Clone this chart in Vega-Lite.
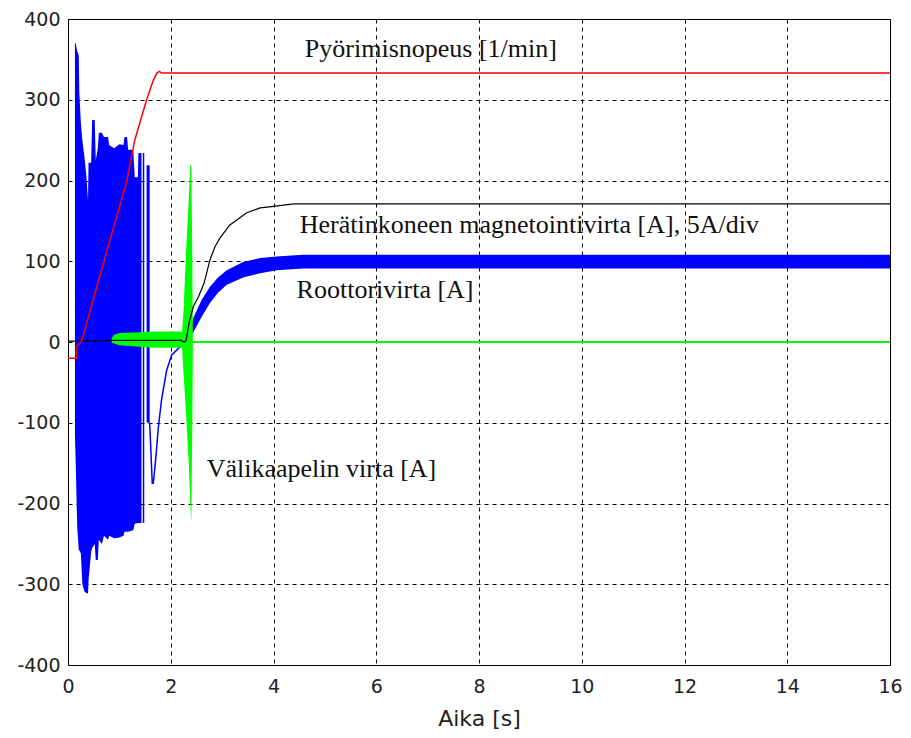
{
  "$schema": "https://vega.github.io/schema/vega-lite/v6.json",
  "width": 822,
  "height": 646,
  "autosize": {"type": "none"},
  "padding": {"left": 68, "top": 19, "right": 21, "bottom": 73},
  "background": "white",
  "config": {
    "view": {"stroke": "black", "strokeWidth": 1},
    "axis": {
      "grid": true,
      "gridColor": "black",
      "gridOpacity": 1,
      "gridDash": [4, 4],
      "gridWidth": 1,
      "domain": false,
      "ticks": false,
      "labelFlush": false,
      "labelFont": "DejaVu Sans",
      "labelFontSize": 19,
      "labelColor": "#222222",
      "titleFont": "DejaVu Sans",
      "titleFontSize": 22,
      "titleFontWeight": "normal",
      "titleColor": "#222222"
    }
  },
  "datasets": {
    "env": [
      {"series": "blue", "seg": "main", "t": 0.135, "lo": -115, "hi": 370},
      {"series": "blue", "seg": "main", "t": 0.15, "lo": -150, "hi": 370},
      {"series": "blue", "seg": "main", "t": 0.18, "lo": -230, "hi": 360},
      {"series": "blue", "seg": "main", "t": 0.21, "lo": -258, "hi": 355},
      {"series": "blue", "seg": "main", "t": 0.22, "lo": -258, "hi": 309},
      {"series": "blue", "seg": "main", "t": 0.25, "lo": -262, "hi": 272},
      {"series": "blue", "seg": "main", "t": 0.28, "lo": -300, "hi": 250},
      {"series": "blue", "seg": "main", "t": 0.32, "lo": -309, "hi": 229},
      {"series": "blue", "seg": "main", "t": 0.36, "lo": -311, "hi": 204},
      {"series": "blue", "seg": "main", "t": 0.39, "lo": -311, "hi": 175},
      {"series": "blue", "seg": "main", "t": 0.40, "lo": -295, "hi": 222},
      {"series": "blue", "seg": "main", "t": 0.45, "lo": -260, "hi": 222},
      {"series": "blue", "seg": "main", "t": 0.47, "lo": -255, "hi": 275},
      {"series": "blue", "seg": "main", "t": 0.52, "lo": -250, "hi": 275},
      {"series": "blue", "seg": "main", "t": 0.54, "lo": -270, "hi": 225},
      {"series": "blue", "seg": "main", "t": 0.58, "lo": -270, "hi": 240},
      {"series": "blue", "seg": "main", "t": 0.60, "lo": -245, "hi": 259},
      {"series": "blue", "seg": "main", "t": 0.66, "lo": -250, "hi": 259},
      {"series": "blue", "seg": "main", "t": 0.70, "lo": -240, "hi": 254},
      {"series": "blue", "seg": "main", "t": 0.78, "lo": -245, "hi": 254},
      {"series": "blue", "seg": "main", "t": 0.80, "lo": -240, "hi": 244},
      {"series": "blue", "seg": "main", "t": 0.90, "lo": -243, "hi": 240},
      {"series": "blue", "seg": "main", "t": 1.00, "lo": -242, "hi": 245},
      {"series": "blue", "seg": "main", "t": 1.08, "lo": -240, "hi": 244},
      {"series": "blue", "seg": "main", "t": 1.10, "lo": -235, "hi": 254},
      {"series": "blue", "seg": "main", "t": 1.15, "lo": -235, "hi": 254},
      {"series": "blue", "seg": "main", "t": 1.17, "lo": -235, "hi": 238},
      {"series": "blue", "seg": "main", "t": 1.27, "lo": -233, "hi": 238},
      {"series": "blue", "seg": "main", "t": 1.30, "lo": -225, "hi": 204},
      {"series": "blue", "seg": "main", "t": 1.36, "lo": -224, "hi": 204},
      {"series": "blue", "seg": "main", "t": 1.37, "lo": -224, "hi": 234},
      {"series": "blue", "seg": "main", "t": 1.43, "lo": -224, "hi": 234},
      {"series": "blue", "seg": "bar", "t": 1.53, "lo": -100, "hi": 219},
      {"series": "blue", "seg": "bar", "t": 1.59, "lo": -100, "hi": 219},
      {"series": "blue", "seg": "band", "t": 2.33, "lo": -3, "hi": 3},
      {"series": "blue", "seg": "band", "t": 2.44, "lo": 12, "hi": 30},
      {"series": "blue", "seg": "band", "t": 2.60, "lo": 31, "hi": 52},
      {"series": "blue", "seg": "band", "t": 2.76, "lo": 48, "hi": 68},
      {"series": "blue", "seg": "band", "t": 2.92, "lo": 61, "hi": 80},
      {"series": "blue", "seg": "band", "t": 3.09, "lo": 71, "hi": 89},
      {"series": "blue", "seg": "band", "t": 3.41, "lo": 80, "hi": 99},
      {"series": "blue", "seg": "band", "t": 3.74, "lo": 85, "hi": 104},
      {"series": "blue", "seg": "band", "t": 4.06, "lo": 89, "hi": 106},
      {"series": "blue", "seg": "band", "t": 4.57, "lo": 91, "hi": 108},
      {"series": "blue", "seg": "band", "t": 6.0, "lo": 91, "hi": 108},
      {"series": "blue", "seg": "band", "t": 9.0, "lo": 91, "hi": 108},
      {"series": "blue", "seg": "band", "t": 12.0, "lo": 91, "hi": 108},
      {"series": "blue", "seg": "band", "t": 16.0, "lo": 91, "hi": 108},
      {"series": "green", "seg": "g", "t": 0.85, "lo": -1, "hi": 5},
      {"series": "green", "seg": "g", "t": 0.90, "lo": -2, "hi": 9},
      {"series": "green", "seg": "g", "t": 1.00, "lo": -4, "hi": 11},
      {"series": "green", "seg": "g", "t": 1.40, "lo": -6, "hi": 12},
      {"series": "green", "seg": "g", "t": 1.60, "lo": -7, "hi": 13},
      {"series": "green", "seg": "g", "t": 2.22, "lo": -7, "hi": 13},
      {"series": "green", "seg": "g", "t": 2.25, "lo": -40, "hi": 40},
      {"series": "green", "seg": "g", "t": 2.30, "lo": -90, "hi": 114},
      {"series": "green", "seg": "g", "t": 2.35, "lo": -150, "hi": 175},
      {"series": "green", "seg": "g", "t": 2.38, "lo": -200, "hi": 219},
      {"series": "green", "seg": "g", "t": 2.40, "lo": -224, "hi": 219},
      {"series": "green", "seg": "g", "t": 2.42, "lo": -100, "hi": 100},
      {"series": "green", "seg": "g", "t": 2.43, "lo": -8, "hi": 8}
    ],
    "lines": [
      {"series": "blue", "seg": "spike", "t": 1.47, "v": 234},
      {"series": "blue", "seg": "spike", "t": 1.47, "v": -224},
      {"series": "blue", "seg": "tr", "t": 1.59, "v": -100},
      {"series": "blue", "seg": "tr", "t": 1.64, "v": -175},
      {"series": "blue", "seg": "tr", "t": 1.66, "v": -175},
      {"series": "blue", "seg": "tr", "t": 1.70, "v": -150},
      {"series": "blue", "seg": "tr", "t": 1.76, "v": -105},
      {"series": "blue", "seg": "tr", "t": 1.82, "v": -72},
      {"series": "blue", "seg": "tr", "t": 1.92, "v": -35},
      {"series": "blue", "seg": "tr", "t": 2.02, "v": -16},
      {"series": "blue", "seg": "tr", "t": 2.18, "v": -6},
      {"series": "blue", "seg": "tr", "t": 2.31, "v": -1},
      {"series": "blue", "seg": "tr", "t": 2.36, "v": 3},
      {"series": "green", "seg": "g0", "t": 2.43, "v": 0},
      {"series": "green", "seg": "g0", "t": 16, "v": 0},
      {"series": "black", "seg": "k", "t": 0, "v": 1},
      {"series": "black", "seg": "k", "t": 0.5, "v": 1},
      {"series": "black", "seg": "k", "t": 0.9, "v": 2},
      {"series": "black", "seg": "k", "t": 2.2, "v": 2},
      {"series": "black", "seg": "k", "t": 2.26, "v": 0},
      {"series": "black", "seg": "k", "t": 2.3, "v": 2},
      {"series": "black", "seg": "k", "t": 2.36, "v": 25},
      {"series": "black", "seg": "k", "t": 2.44, "v": 44},
      {"series": "black", "seg": "k", "t": 2.54, "v": 56},
      {"series": "black", "seg": "k", "t": 2.65, "v": 73},
      {"series": "black", "seg": "k", "t": 2.76, "v": 101},
      {"series": "black", "seg": "k", "t": 2.86, "v": 118},
      {"series": "black", "seg": "k", "t": 2.96, "v": 129},
      {"series": "black", "seg": "k", "t": 3.15, "v": 145},
      {"series": "black", "seg": "k", "t": 3.48, "v": 160},
      {"series": "black", "seg": "k", "t": 3.74, "v": 166},
      {"series": "black", "seg": "k", "t": 4.0, "v": 168},
      {"series": "black", "seg": "k", "t": 4.4, "v": 171},
      {"series": "black", "seg": "k", "t": 16, "v": 171},
      {"series": "red", "seg": "r", "t": 0, "v": -20},
      {"series": "red", "seg": "r", "t": 0.16, "v": -20},
      {"series": "red", "seg": "r", "t": 0.17, "v": -6},
      {"series": "red", "seg": "r", "t": 0.27, "v": 2},
      {"series": "red", "seg": "r", "t": 0.7, "v": 100},
      {"series": "red", "seg": "r", "t": 1.14, "v": 198},
      {"series": "red", "seg": "r", "t": 1.3, "v": 250},
      {"series": "red", "seg": "r", "t": 1.53, "v": 300},
      {"series": "red", "seg": "r", "t": 1.66, "v": 324},
      {"series": "red", "seg": "r", "t": 1.73, "v": 333},
      {"series": "red", "seg": "r", "t": 1.78, "v": 335},
      {"series": "red", "seg": "r", "t": 1.82, "v": 333},
      {"series": "red", "seg": "r", "t": 16, "v": 333}
    ],
    "labels": [
      {"t": 4.61, "v": 353, "txt": "Pyörimisnopeus [1/min]"},
      {"t": 4.51, "v": 134.6, "txt": "Herätinkoneen magnetointivirta [A], 5A/div"},
      {"t": 4.45, "v": 54.5, "txt": "Roottorivirta [A]"},
      {"t": 2.70, "v": -167, "txt": "Välikaapelin virta [A]"}
    ]
  },
  "layer": [
    {
      "data": {"name": "env"},
      "transform": [{"filter": "datum.series === 'blue'"}],
      "mark": {"type": "area", "color": "#0000ff", "opacity": 1},
      "encoding": {
        "x": {"field": "t", "type": "quantitative", "scale": {"domain": [0, 16], "nice": false}, "axis": {"values": [0, 2, 4, 6, 8, 10, 12, 14, 16], "title": "Aika [s]", "labelPadding": 12, "titlePadding": 12}},
        "y": {"field": "hi", "type": "quantitative", "scale": {"domain": [-400, 400], "nice": false}, "axis": {"values": [-400, -300, -200, -100, 0, 100, 200, 300, 400], "title": null, "labelPadding": 8, "labelExpr": "replace(datum.label, '\u2212', '-')"}},
        "y2": {"field": "lo"},
        "detail": {"field": "seg"}
      }
    },
    {
      "data": {"name": "lines"},
      "transform": [{"filter": "datum.series === 'blue'"}],
      "mark": {"type": "line", "color": "#0000ff", "strokeWidth": 1.5},
      "encoding": {
        "x": {"field": "t", "type": "quantitative"},
        "y": {"field": "v", "type": "quantitative"},
        "detail": {"field": "seg"}
      }
    },
    {
      "data": {"name": "env"},
      "transform": [{"filter": "datum.series === 'green'"}],
      "mark": {"type": "area", "color": "#00ff00", "opacity": 1},
      "encoding": {
        "x": {"field": "t", "type": "quantitative"},
        "y": {"field": "hi", "type": "quantitative"},
        "y2": {"field": "lo"},
        "detail": {"field": "seg"}
      }
    },
    {
      "data": {"name": "lines"},
      "transform": [{"filter": "datum.series === 'green'"}],
      "mark": {"type": "line", "color": "#00ff00", "strokeWidth": 2},
      "encoding": {
        "x": {"field": "t", "type": "quantitative"},
        "y": {"field": "v", "type": "quantitative"},
        "detail": {"field": "seg"}
      }
    },
    {
      "data": {"name": "lines"},
      "transform": [{"filter": "datum.series === 'black'"}],
      "mark": {"type": "line", "color": "#000000", "strokeWidth": 1.2},
      "encoding": {
        "x": {"field": "t", "type": "quantitative"},
        "y": {"field": "v", "type": "quantitative"}
      }
    },
    {
      "data": {"name": "lines"},
      "transform": [{"filter": "datum.series === 'red'"}],
      "mark": {"type": "line", "color": "#ff0000", "strokeWidth": 1.5},
      "encoding": {
        "x": {"field": "t", "type": "quantitative"},
        "y": {"field": "v", "type": "quantitative"}
      }
    },
    {
      "data": {"name": "labels"},
      "mark": {"type": "text", "align": "left", "baseline": "alphabetic", "font": "Liberation Serif", "fontSize": 26, "color": "#111111"},
      "encoding": {
        "x": {"field": "t", "type": "quantitative"},
        "y": {"field": "v", "type": "quantitative"},
        "text": {"field": "txt"}
      }
    }
  ]
}
